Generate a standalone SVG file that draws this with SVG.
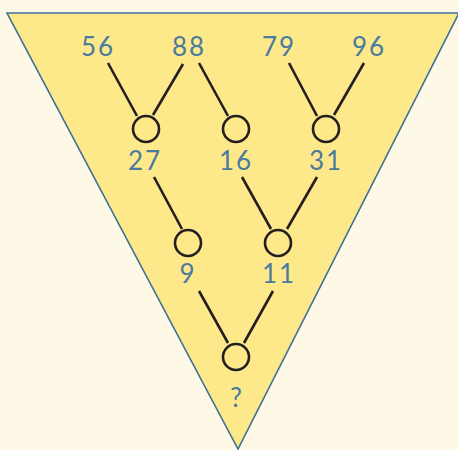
<svg xmlns="http://www.w3.org/2000/svg" width="458" height="450" viewBox="0 0 458 450">
<style>
.bg{fill:#FEF8E7}
.tri{fill:#FDE88A;stroke:#3D6F96;stroke-width:1.6}
.n circle{fill:none;stroke:#231F20;stroke-width:2.6}
.lbl{font-family:Lato,"Open Sans",sans-serif;font-size:26px;letter-spacing:2px;fill:#4A7A9E;text-anchor:middle}
#connectors line{stroke:#231F20;stroke-width:2.6}
</style>
<rect class="bg" x="0" y="0" width="458" height="450"/>
<polygon class="tri" points="7,13 459,13 238,449"/>
<g id="leaves">
<text class="lbl" x="98" y="56">56</text>
<text class="lbl" x="189" y="56">88</text>
<text class="lbl" x="279" y="56">79</text>
<text class="lbl" x="369" y="56">96</text>
</g>
<g id="connectors">
<line x1="108" y1="63" x2="137" y2="116"/>
<line x1="183" y1="64" x2="153" y2="115"/>
<line x1="199" y1="63" x2="228" y2="116"/>
<line x1="289" y1="63" x2="317" y2="116"/>
<line x1="364" y1="63" x2="334" y2="115"/>
<line x1="154" y1="177" x2="182" y2="229"/>
<line x1="242" y1="177" x2="271" y2="229"/>
<line x1="317" y1="177" x2="287" y2="229"/>
<line x1="199" y1="291" x2="228" y2="343"/>
<line x1="273" y1="291" x2="244" y2="343"/>
</g>
<g id="n27" class="n"><circle cx="146" cy="129" r="13"/><text class="lbl" x="145" y="170">27</text></g>
<g id="n16" class="n"><circle cx="236" cy="129" r="13"/><text class="lbl" x="236" y="170">16</text></g>
<g id="n31" class="n"><circle cx="326" cy="129" r="13"/><text class="lbl" x="326" y="170">31</text></g>
<g id="n9" class="n"><circle cx="188" cy="243" r="13"/><text class="lbl" x="188" y="283">9</text></g>
<g id="n11" class="n"><circle cx="278" cy="243" r="13"/><text class="lbl" x="279" y="283">11</text></g>
<g id="nq" class="n"><circle cx="236" cy="357" r="13"/><text class="lbl" x="237" y="407">?</text></g>
</svg>
